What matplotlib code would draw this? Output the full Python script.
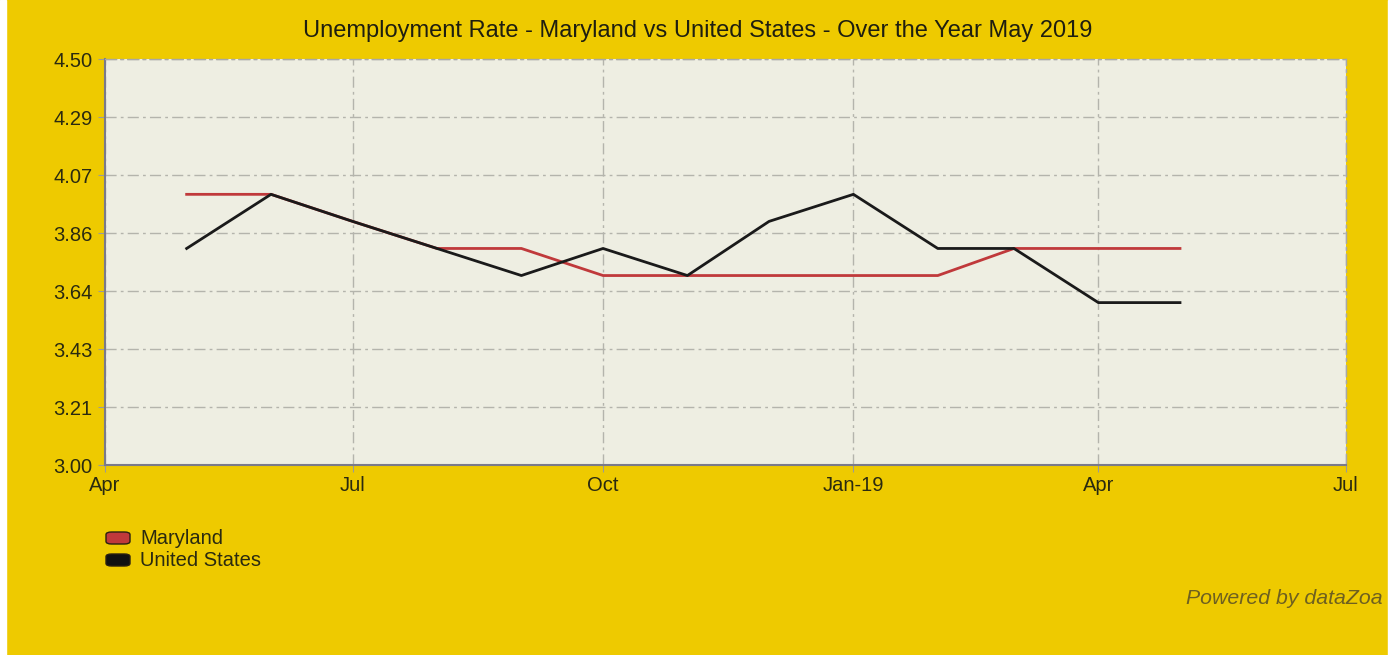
import matplotlib
matplotlib.use("Agg")
import matplotlib.pyplot as plt
from matplotlib.patches import Rectangle, FancyBboxPatch
import numpy as np
import datetime as dt

plt.rcParams['font.family'] = ['Liberation Sans', 'DejaVu Sans']

months = ["2018-05", "2018-06", "2018-07", "2018-08", "2018-09", "2018-10", "2018-11",
          "2018-12", "2019-01", "2019-02", "2019-03", "2019-04", "2019-05"]
maryland = [4.0, 4.0, 3.9, 3.8, 3.8, 3.7, 3.7, 3.7, 3.7, 3.7, 3.8, 3.8, 3.8]
united_states = [3.8, 4.0, 3.9, 3.8, 3.7, 3.8, 3.7, 3.9, 4.0, 3.8, 3.8, 3.6, 3.6]
series_names = ["Maryland", "United States"]
series_colors = ["#C0393B", "#111111"]
xtick_dates = ["2018-04", "2018-07", "2018-10", "2019-01", "2019-04", "2019-07"]
xtick_labels = ["Apr", "Jul", "Oct", "Jan-19", "Apr", "Jul"]
ytick_values = np.linspace(3.0, 4.5, 8)
title = "Unemployment Rate - Maryland vs United States - Over the Year May 2019"

def to_date(s):
    y, m = s.split("-")
    return dt.date(int(y), int(m), 1)

x = [to_date(m) for m in months]
xt = [to_date(m) for m in xtick_dates]

W, H = 1392, 655
fig = plt.figure(figsize=(W / 100, H / 100), dpi=100)
fig.patch.set_facecolor("#EECA00")
fig.patches.append(Rectangle((0, 0), 6 / W, 1, transform=fig.transFigure, color="white", zorder=0))
fig.patches.append(Rectangle((1388 / W, 0), 4 / W, 1, transform=fig.transFigure, color="white", zorder=0))

left, right, top, bottom = 105, 1346, 59, 465
ax = fig.add_axes([left / W, (H - bottom) / H, (right - left) / W, (bottom - top) / H])
ax.set_facecolor("#EEEEE2")

ax.plot(x, maryland, color="#C0393B", lw=2, zorder=3)
ax.plot(x, united_states, color="#1A1A1A", lw=2, zorder=4)

ax.set_xlim(xt[0], xt[-1])
ax.set_ylim(3.0, 4.5)
ax.set_xticks(xt)
ax.set_xticklabels(xtick_labels)
ax.set_yticks(ytick_values)
ax.set_yticklabels([f"{v:.2f}" for v in ytick_values])

ax.grid(True, color="#B4B4AC", linestyle=(0, (8, 3, 2, 3)), lw=1.0)
for s in ax.spines.values():
    s.set_color("#A8A8A8")
    s.set_linestyle((0, (8, 3, 2, 3)))
    s.set_linewidth(1.0)
ax.spines["bottom"].set_linestyle("-")
ax.spines["bottom"].set_color("#7A7A8A")
ax.spines["bottom"].set_linewidth(1.5)
ax.spines["left"].set_linestyle("-")
ax.spines["left"].set_color("#7A7A8A")
ax.spines["left"].set_linewidth(1.5)
ax.tick_params(axis="both", colors="#9A9A9A", length=5, labelcolor="#2A2A10", labelsize=14.5)
ax.tick_params(axis="x", pad=3)
ax.tick_params(axis="y", pad=4)

fig.text(698 / W, 1 - 31 / H, title, ha="center", va="center",
         fontsize=17, color="#1E1E10")

# legend
for i, (name, col) in enumerate(zip(series_names, series_colors)):
    yc = 538 + i * 22
    box = FancyBboxPatch((106 / W, (H - yc - 6) / H), 24 / W, 12 / H,
                         boxstyle="round,pad=0,rounding_size=0.004",
                         transform=fig.transFigure, facecolor=col, edgecolor="#2A2010", lw=1)
    fig.patches.append(box)
    fig.text(140 / W, 1 - yc / H, name, ha="left", va="center", fontsize=14.5, color="#2A2A10")

fig.text(1383 / W, 1 - 599 / H, "Powered by dataZoa", ha="right", va="center",
         fontsize=15.3, style="italic", color="#6E6020")

fig.savefig("out.png", dpi=100, facecolor=fig.get_facecolor())
